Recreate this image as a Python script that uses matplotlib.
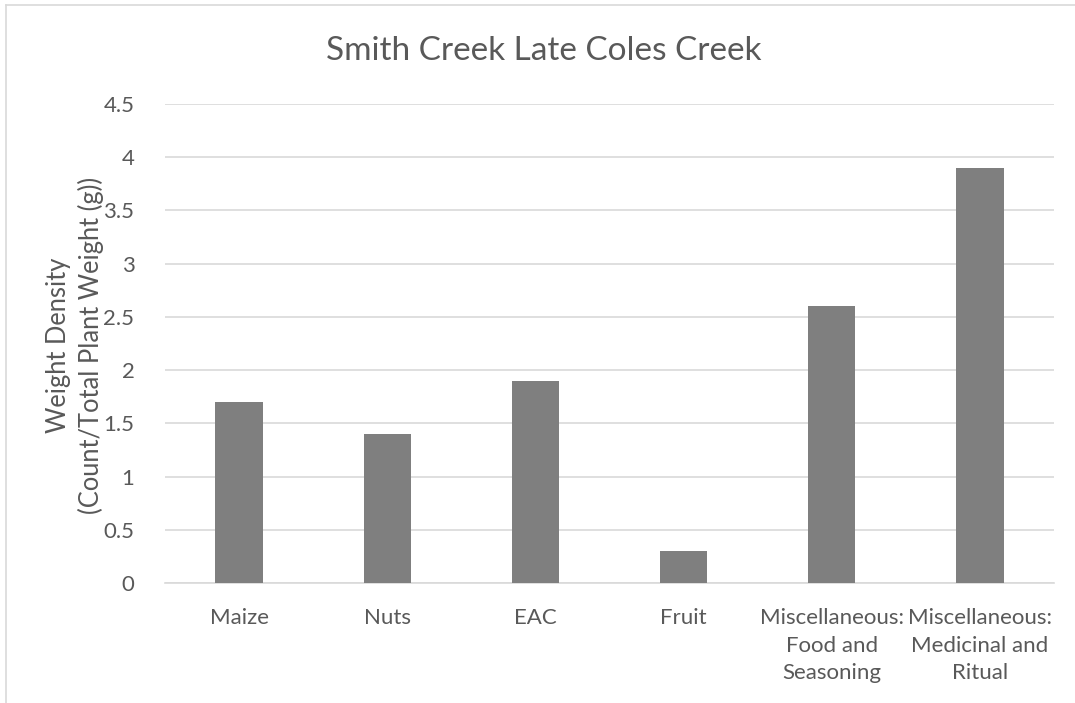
import matplotlib.pyplot as plt
from matplotlib.lines import Line2D

categories = ["Maize", "Nuts", "EAC", "Fruit",
              "Miscellaneous:\nFood and\nSeasoning",
              "Miscellaneous:\nMedicinal and\nRitual"]
values = [1.7, 1.4, 1.9, 0.3, 2.6, 3.9]
yticks = [0, 0.5, 1, 1.5, 2, 2.5, 3, 3.5, 4, 4.5]

plt.rcParams['font.family'] = ['Lato', 'DejaVu Sans']
text_color = '#595959'

fig = plt.figure(figsize=(10.75, 7.03), dpi=100)
ax = fig.add_axes([165/1075, 1 - 583/703, 889/1075, (583 - 104)/703])

x = range(len(categories))
ax.bar(x, values, width=0.32, color='#7f7f7f', zorder=3)

ax.set_xlim(-0.5, len(categories) - 0.5)
ax.set_ylim(0, 4.5)
ax.set_yticks(yticks)
ax.set_yticklabels([f"{t:g}" for t in yticks])
ax.set_xticks(list(x))
ax.set_xticklabels(categories, linespacing=1.47)
ax.tick_params(axis='both', length=0, labelsize=16, colors=text_color)
ax.tick_params(axis='y', pad=22)
ax.tick_params(axis='x', pad=18)

ax.grid(True, axis='y', color='#d9d9d9', linewidth=1.2, zorder=0)
for s in ['top', 'right', 'left']:
    ax.spines[s].set_visible(False)
ax.spines['bottom'].set_color('#d9d9d9')
ax.spines['bottom'].set_linewidth(1.2)

fig.text(75/1075, 1 - 345/703, "Weight Density\n(Count/Total Plant Weight (g))",
         rotation=90, ha='center', va='center', multialignment='center',
         fontsize=18.4, color=text_color, linespacing=1.3)
fig.text(544/1075, 1 - 51/703, "Smith Creek Late Coles Creek",
         ha='center', va='center', fontsize=24, color=text_color)

# chart frame, partly clipped like the source image
fig.add_artist(Line2D([6/1075, 1], [1 - 5/703, 1 - 5/703],
                      color='#d9d9d9', linewidth=1.2, transform=fig.transFigure))
fig.add_artist(Line2D([6/1075, 6/1075], [0, 1 - 5/703],
                      color='#d9d9d9', linewidth=1.2, transform=fig.transFigure))

fig.savefig("out.png", dpi=100)
